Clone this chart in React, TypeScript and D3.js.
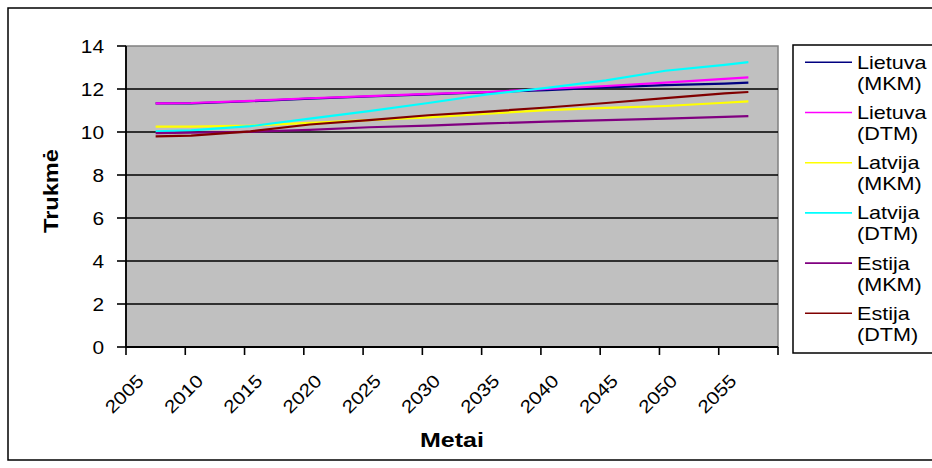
import React from "react";
import * as d3 from "d3";

// Years with readings, and the projected duration for each series
const years = [2007, 2010, 2015, 2020, 2025, 2030, 2035, 2040, 2045, 2050, 2055, 2057];
const lietuvaMKM = [11.33, 11.33, 11.43, 11.55, 11.65, 11.75, 11.85, 11.95, 12.08, 12.18, 12.25, 12.3];
const lietuvaDTM = [11.33, 11.35, 11.45, 11.57, 11.67, 11.77, 11.86, 12.0, 12.14, 12.3, 12.47, 12.54];
const latvijaMKM = [10.25, 10.25, 10.3, 10.42, 10.55, 10.68, 10.85, 11.02, 11.12, 11.21, 11.36, 11.42];
const latvijaDTM = [10.03, 10.08, 10.27, 10.62, 10.97, 11.35, 11.75, 12.05, 12.4, 12.85, 13.12, 13.25];
const estijaMKM = [9.95, 9.97, 10.01, 10.1, 10.22, 10.3, 10.4, 10.48, 10.55, 10.62, 10.7, 10.74];
const estijaDTM = [9.8, 9.83, 10.03, 10.35, 10.55, 10.78, 10.95, 11.14, 11.35, 11.58, 11.8, 11.86];

// Category axis: one slot per year, labelled every fifth year
const categories = d3.range(2005, 2060);
const tickYears = [2005, 2010, 2015, 2020, 2025, 2030, 2035, 2040, 2045, 2050, 2055];
const yTicks = [0, 2, 4, 6, 8, 10, 12, 14];

const seriesNames = [
  ["Lietuva", "(MKM)"],
  ["Lietuva", "(DTM)"],
  ["Latvija", "(MKM)"],
  ["Latvija", "(DTM)"],
  ["Estija", "(MKM)"],
  ["Estija", "(DTM)"],
];
const seriesValues = [lietuvaMKM, lietuvaDTM, latvijaMKM, latvijaDTM, estijaMKM, estijaDTM];
const seriesColors = ["#000080", "#FF00FF", "#FFFF00", "#00FFFF", "#800080", "#800000"];

const W = 932;
const H = 468;
const plot = { left: 126, right: 778, top: 46, bottom: 347 };
const FONT = "'Liberation Sans', Arial, sans-serif";

export default function App() {
  const x = d3
    .scaleBand<number>()
    .domain(categories)
    .range([plot.left, plot.right])
    .paddingInner(0)
    .paddingOuter(0);
  const y = d3.scaleLinear().domain([0, 14]).range([plot.bottom, plot.top]);

  const cx = (yr: number) => (x(yr) as number) + x.bandwidth() / 2;
  const line = d3
    .line<[number, number]>()
    .x((d) => cx(d[0]))
    .y((d) => y(d[1]));

  const boundaries = [...tickYears.map((t) => x(t) as number), plot.right];

  const legend = { x: 793, y: 45, w: 200, h: 308, first: 62.3, step: 50.2 };

  return (
    <svg
      width={W}
      height={H}
      style={{ position: "absolute", left: 0, top: 0, background: "#fff" }}
      fontFamily={FONT}
    >
      {/* chart frame */}
      <rect x={8} y={8} width={W + 20} height={452} fill="#fff" stroke="#000" strokeWidth={1.5} />

      {/* plot area */}
      <rect
        x={plot.left}
        y={plot.top}
        width={plot.right - plot.left}
        height={plot.bottom - plot.top}
        fill="#C0C0C0"
        stroke="#808080"
        strokeWidth={1.5}
      />
      {yTicks
        .filter((t) => t > 0 && t < 14)
        .map((t) => (
          <line key={"g" + t} x1={plot.left} x2={plot.right} y1={y(t)} y2={y(t)} stroke="#000" strokeWidth={1.6} />
        ))}

      {/* series */}
      {seriesValues.map((vals, i) => (
        <path
          key={"s" + i}
          d={line(years.map((yr, j) => [yr, vals[j]] as [number, number])) || ""}
          fill="none"
          stroke={seriesColors[i]}
          strokeWidth={2.2}
        />
      ))}

      {/* y axis */}
      <line x1={plot.left} x2={plot.left} y1={plot.top} y2={plot.bottom} stroke="#000" strokeWidth={1.8} />
      {yTicks.map((t) => (
        <g key={"yt" + t}>
          <line x1={plot.left - 9} x2={plot.left} y1={y(t)} y2={y(t)} stroke="#000" strokeWidth={1.6} />
          <text
            transform={`translate(104,${y(t) + 6.5}) scale(1.13,1)`}
            textAnchor="end"
            fontSize={18.5}
            fill="#000"
          >
            {t}
          </text>
        </g>
      ))}

      {/* x axis */}
      <line x1={plot.left} x2={plot.right} y1={plot.bottom} y2={plot.bottom} stroke="#000" strokeWidth={1.8} />
      {boundaries.map((bx, i) => (
        <line key={"xt" + i} x1={bx} x2={bx} y1={plot.bottom} y2={plot.bottom + 8} stroke="#000" strokeWidth={1.6} />
      ))}
      {tickYears.map((t) => (
        <text
          key={"xl" + t}
          transform={`translate(${(x(t) as number) + 19},382) rotate(-45) scale(1.15,1)`}
          textAnchor="end"
          fontSize={18}
          fill="#000"
        >
          {t}
        </text>
      ))}

      {/* axis titles */}
      <text
        transform={`translate(${(plot.left + plot.right) / 2},447) scale(1.25,1)`}
        textAnchor="middle"
        fontSize={20}
        fontWeight="bold"
        fill="#000"
      >
        Metai
      </text>
      <text
        transform={`translate(58,191) rotate(-90) scale(1.18,1)`}
        textAnchor="middle"
        fontSize={20}
        fontWeight="bold"
        fill="#000"
      >
        Trukmė
      </text>

      {/* legend */}
      <rect x={legend.x} y={legend.y} width={legend.w} height={legend.h} fill="#fff" stroke="#000" strokeWidth={1.5} />
      {seriesNames.map((names, i) => {
        const ly = legend.first + legend.step * i;
        return (
          <g key={"lg" + i}>
            <line x1={805} x2={852} y1={ly} y2={ly} stroke={seriesColors[i]} strokeWidth={1.6} />
            <text transform={`translate(857,${ly + 6.5}) scale(1.2,1)`} fontSize={18} fill="#000">
              {names[0]}
            </text>
            <text transform={`translate(857,${ly + 27.5}) scale(1.2,1)`} fontSize={18} fill="#000">
              {names[1]}
            </text>
          </g>
        );
      })}
    </svg>
  );
}
